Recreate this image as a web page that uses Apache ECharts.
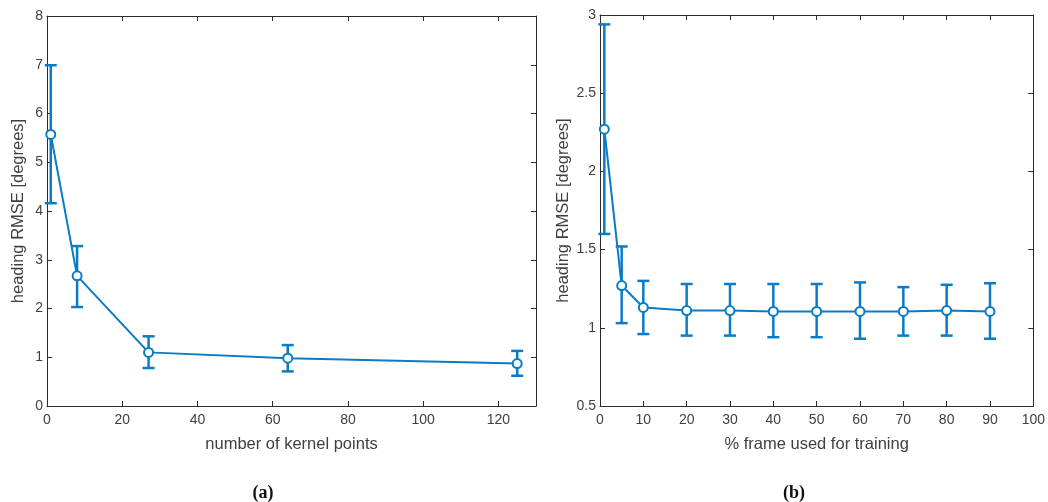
<!DOCTYPE html>
<html>
<head>
<meta charset="utf-8">
<script src="https://cdn.jsdelivr.net/npm/echarts@6/dist/echarts.min.js"></script>
<style>
  html, body { margin: 0; padding: 0; background: #fff; }
  #main { width: 1048px; height: 502px; }
</style>
</head>
<body>
<div id="main"></div>
<script>
// (a) kernel points
var kernelPoints = [1, 8, 27, 64, 125];
var kernelMean = [5.57, 2.67, 1.10, 0.98, 0.87];
var kernelLow = [4.16, 2.03, 0.78, 0.71, 0.62];
var kernelHigh = [6.99, 3.28, 1.43, 1.25, 1.13];

// (b) % frame used for training
var framePct = [1, 5, 10, 20, 30, 40, 50, 60, 70, 80, 90];
var frameMean = [2.27, 1.27, 1.13, 1.11, 1.11, 1.105, 1.105, 1.105, 1.105, 1.11, 1.105];
var frameLow = [1.60, 1.03, 0.96, 0.95, 0.95, 0.94, 0.94, 0.93, 0.95, 0.95, 0.93];
var frameHigh = [2.94, 1.52, 1.30, 1.28, 1.28, 1.28, 1.28, 1.29, 1.26, 1.275, 1.285];

var blue = '#0a7bc4';
var axisColor = '#2b2b2b';
var labelColor = '#404040';
var font = 'Liberation Sans';

function pairs(xs, ys) {
    return xs.map(function (x, i) { return [x, ys[i]]; });
}
function bars(xs, lo, hi) {
    return xs.map(function (x, i) { return [x, lo[i], hi[i]]; });
}

// vertical error bar with caps
function errorBar(params, api) {
    var top = api.coord([api.value(0), api.value(2)]);
    var bot = api.coord([api.value(0), api.value(1)]);
    var w = 6;
    var style = { stroke: blue, lineWidth: 2.5, fill: null };
    return {
        type: 'group',
        children: [
            { type: 'line', shape: { x1: top[0], y1: top[1], x2: bot[0], y2: bot[1] }, style: style },
            { type: 'line', shape: { x1: top[0] - w, y1: top[1], x2: top[0] + w, y2: top[1] }, style: style },
            { type: 'line', shape: { x1: bot[0] - w, y1: bot[1], x2: bot[0] + w, y2: bot[1] }, style: style }
        ]
    };
}

function xAx(grid, max, interval, pos, name, showLabel, lastHidden) {
    return {
        type: 'value', gridIndex: grid, position: pos, min: 0, max: max, interval: interval,
        name: name, nameLocation: 'middle', nameGap: 30,
        nameTextStyle: { color: labelColor, fontFamily: font, fontSize: 16.5 },
        axisLine: { show: true, onZero: false, lineStyle: { color: axisColor, width: 1 } },
        axisTick: { show: true, inside: true, length: 5, lineStyle: { color: axisColor } },
        axisLabel: {
            show: showLabel, color: labelColor, fontFamily: font, fontSize: 14, margin: 7,
            showMaxLabel: !lastHidden
        },
        splitLine: { show: false }
    };
}

function yAx(grid, min, max, interval, pos, name, gap, showLabel) {
    return {
        type: 'value', gridIndex: grid, position: pos, min: min, max: max, interval: interval,
        name: name, nameLocation: 'middle', nameGap: gap,
        nameTextStyle: { color: labelColor, fontFamily: font, fontSize: 16.5 },
        axisLine: { show: true, onZero: false, lineStyle: { color: axisColor, width: 1 } },
        axisTick: { show: true, inside: true, length: 5, lineStyle: { color: axisColor } },
        axisLabel: { show: showLabel, color: labelColor, fontFamily: font, fontSize: 14, margin: 4 },
        splitLine: { show: false }
    };
}

var chart = echarts.init(document.getElementById('main'));

var option = {
    backgroundColor: '#fff',
    animation: false,
    title: [
        {
            text: '{p|(}{b|a}{p|)}', left: 258, top: 479, textAlign: 'center',
            textStyle: { rich: {
                p: { fontFamily: 'Liberation Serif', fontSize: 18, color: '#111' },
                b: { fontFamily: 'Liberation Serif', fontSize: 18, fontWeight: 'bold', color: '#111' }
            } }
        },
        {
            text: '{p|(}{b|b}{p|)}', left: 789, top: 479, textAlign: 'center',
            textStyle: { rich: {
                p: { fontFamily: 'Liberation Serif', fontSize: 18, color: '#111' },
                b: { fontFamily: 'Liberation Serif', fontSize: 18, fontWeight: 'bold', color: '#111' }
            } }
        }
    ],
    grid: [
        { left: 47, top: 16, right: 512, bottom: 96 },
        { left: 600, top: 15, right: 12, bottom: 96 }
    ],
    xAxis: [
        xAx(0, 130, 20, 'bottom', 'number of kernel points', true, true),
        xAx(0, 130, 20, 'top', '', false, true),
        xAx(1, 100, 10, 'bottom', '% frame used for training', true, false),
        xAx(1, 100, 10, 'top', '', false, false)
    ],
    yAxis: [
        yAx(0, 0, 8, 1, 'left', 'heading RMSE [degrees]', 20, true),
        yAx(0, 0, 8, 1, 'right', '', 0, false),
        yAx(1, 0.5, 3, 0.5, 'left', 'heading RMSE [degrees]', 28, true),
        yAx(1, 0.5, 3, 0.5, 'right', '', 0, false)
    ],
    series: [
        {
            type: 'custom', xAxisIndex: 0, yAxisIndex: 0,
            renderItem: errorBar, data: bars(kernelPoints, kernelLow, kernelHigh), z: 2
        },
        {
            type: 'line', xAxisIndex: 0, yAxisIndex: 0,
            data: pairs(kernelPoints, kernelMean),
            symbol: 'emptyCircle', symbolSize: 9,
            lineStyle: { color: blue, width: 2 },
            itemStyle: { color: blue, borderWidth: 2 }, z: 3
        },
        {
            type: 'custom', xAxisIndex: 2, yAxisIndex: 2,
            renderItem: errorBar, data: bars(framePct, frameLow, frameHigh), z: 2
        },
        {
            type: 'line', xAxisIndex: 2, yAxisIndex: 2,
            data: pairs(framePct, frameMean),
            symbol: 'emptyCircle', symbolSize: 9,
            lineStyle: { color: blue, width: 2 },
            itemStyle: { color: blue, borderWidth: 2 }, z: 3
        }
    ]
};
chart.setOption(option);
</script>
</body>
</html>
